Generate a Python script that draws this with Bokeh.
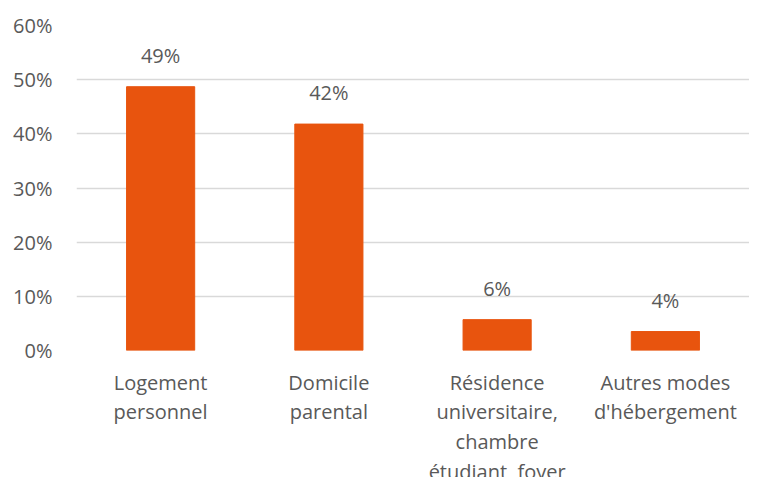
from bokeh.plotting import figure
from bokeh.models import ColumnDataSource, FactorRange, NumeralTickFormatter, FixedTicker, Range1d
from bokeh.core.properties import value
from bokeh.embed import file_html
from bokeh.resources import INLINE

categories = ["Logement\npersonnel", "Domicile\nparental",
              "Résidence\nuniversitaire,\nchambre\nétudiant, foyer",
              "Autres modes\nd'hébergement"]
shares = [0.487, 0.418, 0.057, 0.035]
share_labels = ["49%", "42%", "6%", "4%"]
y_ticks = [0, 0.1, 0.2, 0.3, 0.4, 0.5, 0.6]

FONT = "Open Sans"
GRAY = "#595959"
BAR = "#E8540E"

src = ColumnDataSource(dict(cat=categories, val=shares, lab=share_labels))

p = figure(x_range=FactorRange(factors=categories), y_range=Range1d(0, 0.6),
           frame_width=673, frame_height=325, output_backend="svg",
           toolbar_location=None, min_border_left=76, min_border_top=25,
           min_border_right=0, min_border_bottom=0)
p.outline_line_color = None
p.background_fill_color = "white"

p.vbar(x="cat", top="val", width=0.405, source=src, color=BAR)
p.text(x="cat", y="val", text="lab", source=src, text_align="center",
       text_baseline="bottom", y_offset=-18, text_color=GRAY,
       text_font=value(FONT), text_font_size="20px")

p.yaxis.ticker = FixedTicker(ticks=y_ticks)
p.yaxis.formatter = NumeralTickFormatter(format="0%")
for ax in (p.xaxis[0], p.yaxis[0]):
    ax.axis_line_color = None
    ax.major_tick_line_color = None
    ax.minor_tick_line_color = None
    ax.major_label_text_font = FONT
    ax.major_label_text_font_size = "20px"
    ax.major_label_text_color = GRAY
p.yaxis.major_label_standoff = 18
p.xaxis.major_label_standoff = 12
p.xaxis.major_label_text_line_height = 1.1

p.xgrid.grid_line_color = None
p.ygrid.grid_line_color = "#D9D9D9"
p.ygrid.grid_line_width = 1.5

open("out.html", "w").write(file_html(p, INLINE))
